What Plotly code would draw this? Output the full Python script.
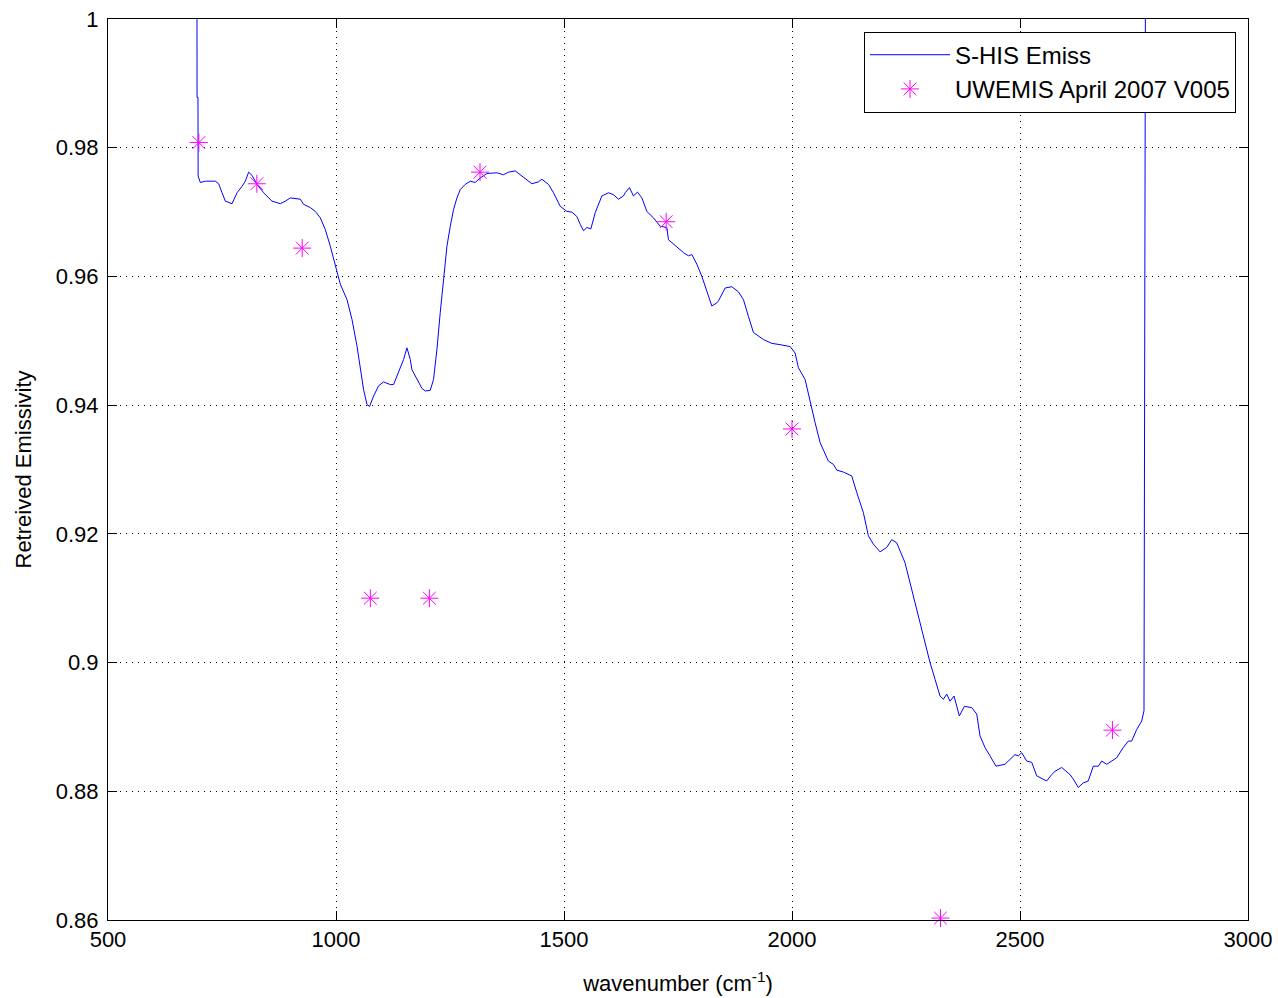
import plotly.graph_objects as go

# S-HIS retrieved emissivity spectrum (wavenumber in cm^-1)
shis_wn = [
    694.9, 695.3, 697.3, 697.6, 702.5, 713.5, 735.4, 742.7, 750.1, 757.3,
    772.0, 783.0, 794.0, 801.2, 808.4, 815.9, 826.8, 841.3, 859.7, 877.9,
    888.9, 899.8, 921.7, 929.0, 943.7, 954.6, 965.6, 976.5, 987.5, 998.5,
    1009.4, 1024.1, 1035.1, 1046.0, 1053.3, 1060.5, 1068.0, 1073.6, 1082.4, 1093.4,
    1104.3, 1119.0, 1126.3, 1137.2, 1148.2, 1155.6, 1162.9, 1166.6, 1177.6, 1188.5,
    1195.8, 1206.7, 1213.9, 1221.4, 1228.6, 1235.9, 1243.3, 1250.6, 1257.8, 1265.2,
    1272.5, 1283.4, 1294.4, 1305.3, 1316.3, 1331.0, 1352.9, 1367.4, 1378.3, 1393.0,
    1404.0, 1418.7, 1429.6, 1444.1, 1451.5, 1466.0, 1477.0, 1491.7, 1506.4, 1517.3,
    1528.3, 1535.5, 1542.7, 1550.2, 1559.0, 1568.4, 1583.1, 1597.6, 1608.5, 1619.5,
    1630.4, 1634.2, 1643.6, 1648.9, 1652.3, 1661.1, 1670.8, 1681.7, 1696.2, 1710.9,
    1725.6, 1729.1, 1747.5, 1762.0, 1772.9, 1780.4, 1791.3, 1802.3, 1813.3, 1824.2,
    1835.2, 1838.7, 1853.4, 1868.0, 1882.5, 1893.5, 1904.4, 1915.4, 1937.3, 1955.7,
    1973.9, 1995.9, 2006.8, 2014.1, 2028.7, 2039.7, 2050.6, 2061.6, 2079.8, 2090.8,
    2098.2, 2112.7, 2131.1, 2142.1, 2156.5, 2167.5, 2178.4, 2193.1, 2207.8, 2218.8,
    2229.7, 2247.9, 2258.9, 2269.8, 2280.8, 2291.8, 2302.7, 2313.7, 2324.6, 2331.9,
    2339.3, 2346.6, 2355.3, 2367.0, 2378.0, 2394.1, 2405.1, 2412.3, 2423.3, 2434.2,
    2447.4, 2467.1, 2478.1, 2489.0, 2496.3, 2503.7, 2514.7, 2525.7, 2536.6, 2558.5,
    2569.5, 2576.7, 2591.4, 2609.6, 2616.8, 2627.8, 2638.8, 2649.7, 2660.7, 2671.7,
    2679.1, 2690.1, 2712.0, 2726.5, 2737.5, 2744.9, 2755.9, 2766.8, 2771.9, 2773.5,
    2775.5,
]
shis_emis = [
    1.0200, 0.9878, 0.9878, 0.9756, 0.9746, 0.9748, 0.9748, 0.9744, 0.9730, 0.9717,
    0.9713, 0.9730, 0.9740, 0.9748, 0.9762, 0.9757, 0.9743, 0.9730, 0.9717, 0.9713,
    0.9717, 0.9722, 0.9720, 0.9712, 0.9707, 0.9701, 0.9691, 0.9673, 0.9647, 0.9616,
    0.9588, 0.9564, 0.9533, 0.9492, 0.9461, 0.9424, 0.9401, 0.9398, 0.9414, 0.9430,
    0.9436, 0.9432, 0.9432, 0.9450, 0.9471, 0.9489, 0.9471, 0.9455, 0.9440, 0.9426,
    0.9422, 0.9423, 0.9440, 0.9487, 0.9544, 0.9600, 0.9647, 0.9678, 0.9704, 0.9722,
    0.9735, 0.9743, 0.9748, 0.9746, 0.9753, 0.9760, 0.9761, 0.9758, 0.9762, 0.9764,
    0.9758, 0.9749, 0.9744, 0.9747, 0.9751, 0.9743, 0.9730, 0.9709, 0.9701, 0.9700,
    0.9693, 0.9681, 0.9671, 0.9676, 0.9674, 0.9699, 0.9725, 0.9730, 0.9727, 0.9720,
    0.9725, 0.9730, 0.9738, 0.9730, 0.9725, 0.9731, 0.9722, 0.9701, 0.9691, 0.9678,
    0.9676, 0.9657, 0.9645, 0.9637, 0.9632, 0.9634, 0.9619, 0.9600, 0.9577, 0.9554,
    0.9559, 0.9562, 0.9582, 0.9584, 0.9576, 0.9564, 0.9538, 0.9513, 0.9502, 0.9496,
    0.9494, 0.9491, 0.9481, 0.9458, 0.9440, 0.9404, 0.9373, 0.9342, 0.9313, 0.9308,
    0.9299, 0.9296, 0.9290, 0.9264, 0.9233, 0.9197, 0.9184, 0.9172, 0.9179, 0.9191,
    0.9186, 0.9155, 0.9124, 0.9093, 0.9062, 0.9031, 0.9000, 0.8974, 0.8948, 0.8943,
    0.8951, 0.8940, 0.8948, 0.8917, 0.8932, 0.8930, 0.8920, 0.8886, 0.8868, 0.8855,
    0.8839, 0.8842, 0.8850, 0.8857, 0.8855, 0.8860, 0.8847, 0.8845, 0.8824, 0.8816,
    0.8826, 0.8831, 0.8837, 0.8826, 0.8819, 0.8806, 0.8813, 0.8816, 0.8839, 0.8839,
    0.8847, 0.8842, 0.8852, 0.8868, 0.8878, 0.8878, 0.8896, 0.8909, 0.8925, 0.9400,
    1.0200,
]

# UWEMIS April 2007 V005 hinge-point emissivities
uwemis_wn = [699.3, 826.4, 925.9, 1075.3, 1204.8, 1315.8, 1724.1, 2000.0, 2325.6, 2702.7]
uwemis_emis = [0.9808, 0.9744, 0.9644, 0.9100, 0.9100, 0.9762, 0.9685, 0.9363, 0.8603, 0.8895]

# Axis ticks
x_ticks = [500, 1000, 1500, 2000, 2500, 3000]
y_ticks = [0.86, 0.88, 0.90, 0.92, 0.94, 0.96, 0.98, 1.00]
y_tick_text = ["0.86", "0.88", "0.9", "0.92", "0.94", "0.96", "0.98", "1"]

FONT = "Liberation Sans, Arial, Helvetica, sans-serif"

fig = go.Figure()
fig.add_trace(go.Scatter(
    x=shis_wn, y=shis_emis, mode="lines", name="S-HIS Emiss",
    line=dict(color="#0000ff", width=1),
))
fig.add_trace(go.Scatter(
    x=uwemis_wn, y=uwemis_emis, mode="markers", name="UWEMIS April 2007 V005",
    marker=dict(symbol="asterisk-open", size=15, color="#ff00ff",
                line=dict(color="#ff00ff", width=1)),
    cliponaxis=False,
))

axis_common = dict(
    showline=True, linecolor="black", linewidth=1, mirror="ticks",
    ticks="inside", ticklen=9, tickcolor="black",
    showgrid=True, gridcolor="black", gridwidth=1, griddash="1px,5px",
    zeroline=False,
    tickfont=dict(family=FONT, size=22, color="black"),
)

fig.update_xaxes(
    range=[500, 3000], tickvals=x_ticks,
    title=dict(text="wavenumber (cm<sup>-1</sup>)", font=dict(family=FONT, size=22, color="black"),
               standoff=24),
    **axis_common,
)
fig.update_yaxes(
    range=[0.86, 1.0], tickvals=y_ticks, ticktext=y_tick_text,
    ticklabelstandoff=4,
    title=dict(text="Retreived Emissivity", font=dict(family=FONT, size=22, color="black"),
               standoff=18),
    **axis_common,
)

fig.update_layout(
    width=1278, height=998,
    margin=dict(l=108, r=30, t=19, b=78, autoexpand=False),
    paper_bgcolor="white", plot_bgcolor="white",
    font=dict(family=FONT, size=22, color="black"),
    showlegend=True,
    legend=dict(
        x=0.9895, y=0.986, xanchor="right", yanchor="top",
        bgcolor="white", bordercolor="black", borderwidth=1,
        font=dict(family=FONT, size=24, color="black"),
        itemwidth=80, tracegroupgap=0,
    ),
)

fig.write_html("out.html")
